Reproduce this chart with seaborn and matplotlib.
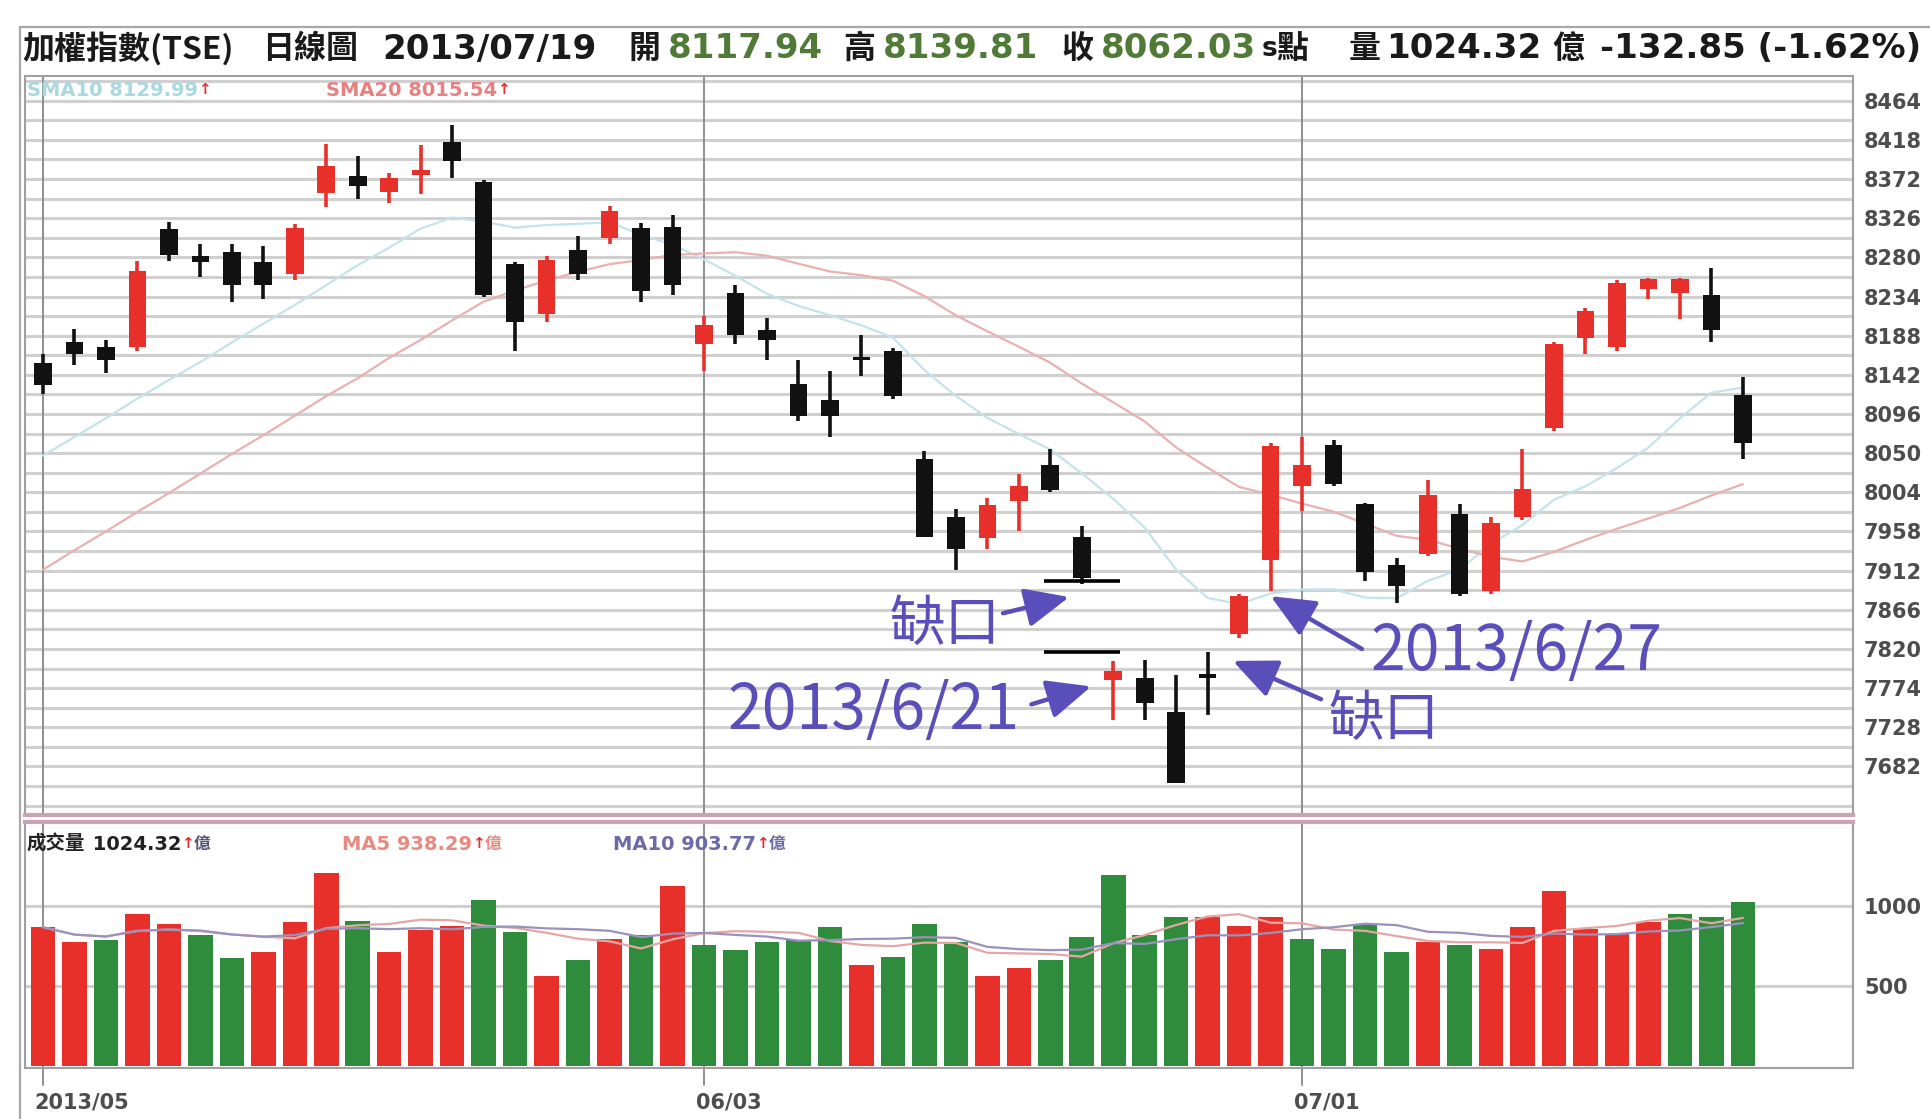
import numpy as np
import pandas as pd
import matplotlib
matplotlib.use('Agg')
import matplotlib.pyplot as plt
import matplotlib.transforms as mtrans
import seaborn as sns

# daily candles, TAIEX 2013/05 - 2013/07/19
opens = [8156, 8180, 8175, 8175, 8313, 8281, 8286, 8274, 8261, 8355,
         8376, 8357, 8377, 8415, 8368, 8272, 8214, 8289, 8303, 8315,
         8316, 8178, 8238, 8195, 8131, 8112, 8163, 8170, 8043, 7975,
         7950, 7994, 8036, 7952, 7783, 7786, 7746, 7790, 7838, 7924,
         8011, 8060, 7990, 7919, 7932, 7978, 7888, 7975, 8079, 8185,
         8175, 8243, 8238, 8236, 8117.94]
highs = [8167, 8196, 8183, 8276, 8322, 8296, 8296, 8293, 8319, 8413,
         8399, 8379, 8412, 8436, 8371, 8274, 8282, 8305, 8340, 8320,
         8330, 8211, 8247, 8209, 8159, 8147, 8189, 8173, 8052, 7984,
         7997, 8026, 8055, 7964, 7806, 7807, 7790, 7816, 7885, 8062,
         8069, 8065, 7992, 7927, 8018, 7990, 7975, 8055, 8181, 8221,
         8253, 8256, 8256, 8267, 8139.81]
lows = [8120, 8153, 8144, 8170, 8276, 8257, 8228, 8231, 8253, 8339,
        8348, 8344, 8354, 8373, 8234, 8170, 8204, 8253, 8296, 8228,
        8236, 8146, 8178, 8160, 8088, 8069, 8141, 8114, 7952, 7913,
        7937, 7958, 8004, 7896, 7736, 7736, 7662, 7742, 7833, 7888,
        7982, 8011, 7900, 7874, 7929, 7882, 7885, 7972, 8076, 8167,
        8170, 8231, 8207, 8181, 8043]
closes = [8130, 8166, 8160, 8264, 8283, 8275, 8247, 8247, 8315, 8387,
          8364, 8373, 8383, 8393, 8236, 8204, 8277, 8261, 8334, 8240,
          8247, 8201, 8189, 8183, 8094, 8094, 8159, 8117, 7952, 7937,
          7989, 8011, 8007, 7903, 7794, 7757, 7663, 7786, 7882, 8059,
          8036, 8014, 7910, 7894, 8001, 7885, 7968, 8008, 8178, 8217,
          8250, 8254, 8254, 8195, 8062.03]

# moving averages before the window is full
sma10_early = [8047, 8069, 8091, 8114, 8136, 8157, 8180, 8202, 8224]
sma20_early = [7913, 7936, 7958, 7981, 8003, 8026, 8049, 8071, 8094, 8117,
               8138, 8162, 8183, 8206, 8228, 8241, 8253, 8263, 8272]

volumes = [867, 775, 785, 949, 887, 816, 673, 714, 898, 1204,
           908, 714, 847, 877, 1040, 836, 560, 663, 796, 816,
           1122, 755, 724, 775, 785, 867, 632, 683, 887, 775,
           561, 612, 663, 806, 1193, 816, 928, 928, 877, 928,
           796, 734, 887, 714, 775, 755, 734, 867, 1091, 857,
           826, 898, 949, 928, 1024.32]
vol_dir = list('RRGRRGGRRRGRRRGGRGRGRGGGGGRGGGRRGGGGGRRRGGGGRGRRRRRRGGG')

price_ticks = [7682 + 46 * k for k in range(18)]
vol_ticks = [500, 1000]
date_labels = ['2013/05', '06/03', '07/01']
date_idx = [0, 21, 40]
gap_levels = [7900, 7817]

RED = '#e8302a'
GREEN = '#2f8c3c'
ANN = '#5a4fba'
W, H = 1930, 1119

sns.set_theme(style='white')
plt.rcParams['font.family'] = ['Noto Sans CJK TC', 'DejaVu Sans']

fig = plt.figure(figsize=(W / 100, H / 100), dpi=100)
fig.patch.set_facecolor('white')
ax = fig.add_axes([25 / W, 1 - 815 / H, 1828 / W, 739 / H])
axv = fig.add_axes([25 / W, 1 - 1068 / H, 1828 / W, 246 / H])

idx = np.arange(len(closes))
o, h, l, c = map(np.array, (opens, highs, lows, closes))

close_s = pd.Series(c, dtype=float)
sma10 = close_s.rolling(10).mean()
sma10.iloc[:9] = sma10_early
sma20 = close_s.rolling(20).mean()
sma20.iloc[:19] = sma20_early

# ---- price panel ----
for v in np.arange(7636, 8500, 23):
    ax.axhline(v, color='#d0d0d0', lw=2.2, zorder=0)
for d in date_idx:
    ax.axvline(d, color='#8f8f8f', lw=1.4, zorder=0.5)

sns.lineplot(x=idx, y=sma10.values, ax=ax, color='#c2e4ea', lw=1.6, zorder=1)
sns.lineplot(x=idx, y=sma20.values, ax=ax, color='#ebb0b0', lw=1.6, zorder=1)

up = c >= o
cols = np.where(up, RED, '#111111')
ax.vlines(idx, l, h, colors=cols, lw=2.6, zorder=3)
body_lo = np.minimum(o, c)
body_h = np.maximum(np.abs(c - o), 4.5)
ax.bar(idx, body_h, bottom=body_lo, width=0.56, color=cols, zorder=4, linewidth=0)

ax.hlines(gap_levels, 31.8, 34.2, colors='black', lw=2.6, zorder=4)

ax.set_xlim(-0.57, 57.5)
ax.set_ylim(7625, 8493)
ax.set_xticks([])
ax.yaxis.tick_right()
ax.set_yticks(price_ticks)
ax.set_yticklabels([str(t) for t in price_ticks], fontsize=15, fontweight='bold',
                   color='#4d4d4d', family='DejaVu Sans')
ax.tick_params(axis='y', length=0, pad=8)
for s in ax.spines.values():
    s.set_color('#a0a0a0')
    s.set_linewidth(1.5)
ax.spines['bottom'].set_color('#caa3b6')
ax.spines['bottom'].set_linewidth(3)

# annotations
ann_kw = dict(color=ANN, ha='center', va='center', zorder=6, fontweight='light')
ax.text(28.65, 7848, '缺口', fontsize=40, **ann_kw)
ax.text(26.4, 7747, '2013/6/21', fontsize=45, **ann_kw)
ax.text(46.8, 7816, '2013/6/27', fontsize=45, **ann_kw)
ax.text(42.6, 7736, '缺口', fontsize=40, **ann_kw)
arrow = dict(arrowstyle='-|>,head_length=0.9,head_width=0.4', lw=3.2, color=ANN,
             mutation_scale=30, shrinkA=0, shrinkB=0)
for tail, head in [((30.5, 7862), (32.6, 7881)),
                   ((31.4, 7755), (33.3, 7776)),
                   ((41.9, 7820), (39.0, 7882)),
                   ((40.6, 7761), (37.8, 7806))]:
    ax.annotate('', xy=head, xytext=tail, arrowprops=arrow, zorder=6)

# ---- volume panel ----
vdf = pd.DataFrame({'idx': idx, 'vol': volumes, 'dir': vol_dir})
for v in vol_ticks:
    axv.axhline(v, color='#cfcfcf', lw=2.2, zorder=0)
for d in date_idx:
    axv.axvline(d, color='#8f8f8f', lw=1.4, zorder=0.5)
sns.barplot(data=vdf, x='idx', y='vol', hue='dir', palette={'R': RED, 'G': GREEN},
            native_scale=True, width=0.78, dodge=False, legend=False,
            errorbar=None, saturation=1, ax=axv, zorder=2, linewidth=0)
vol_s = pd.Series(volumes, dtype=float)
sns.lineplot(x=idx, y=vol_s.rolling(5, min_periods=1).mean().values, ax=axv,
             color='#e6a6a6', lw=1.6, zorder=3)
sns.lineplot(x=idx, y=vol_s.rolling(10, min_periods=1).mean().values, ax=axv,
             color='#9a92bc', lw=1.6, zorder=3)

axv.set_xlim(-0.57, 57.5)
axv.set_ylim(-12, 1524)
axv.set_xlabel('')
axv.set_ylabel('')
axv.set_xticks([])
axv.yaxis.tick_right()
axv.set_yticks(vol_ticks)
axv.set_yticklabels([str(t) for t in vol_ticks], fontsize=15, fontweight='bold',
                    color='#4d4d4d', family='DejaVu Sans')
axv.tick_params(axis='y', length=0, pad=8)
for s in axv.spines.values():
    s.set_color('#a0a0a0')
    s.set_linewidth(1.5)
axv.spines['top'].set_color('#caa3b6')
axv.spines['top'].set_linewidth(3)

trans = mtrans.blended_transform_factory(axv.transData, axv.transAxes)
for d, lab in zip(date_idx, date_labels):
    axv.plot([d, d], [0, -0.07], color='#8f8f8f', lw=1.4, transform=trans, clip_on=False)
    axv.text(d - 0.27, -0.14, lab, transform=trans, ha='left', va='center',
             fontsize=15, fontweight='bold', color='#4d4d4d', family='DejaVu Sans')

# ---- text rows ----
fig.canvas.draw()
rend = fig.canvas.get_renderer()


def row(x, y, pieces, size):
    for s, col, fam, sz in pieces:
        t = fig.text(x / W, 1 - y / H, s, color=col, fontsize=sz or size,
                     fontweight='bold', family=fam, va='center', ha='left')
        x += t.get_window_extent(renderer=rend).width
    return x


CJK = ['Noto Sans CJK TC', 'DejaVu Sans']
DV = 'DejaVu Sans'
HG = '#4f7b36'
K = '#1a1a1a'
header = [('加權指數(TSE)', 22, K, CJK, 23), ('日線圖', 262, K, CJK, 23),
          ('2013/07/19', 382, K, DV, 24.5), ('開', 628, K, CJK, 23),
          ('8117.94', 668, HG, DV, 24.5), ('高', 843, K, CJK, 23),
          ('8139.81', 883, HG, DV, 24.5), ('收', 1061, K, CJK, 23),
          ('8062.03', 1101, HG, DV, 24.5), ('s', 1262, K, DV, 19),
          ('點', 1276, K, CJK, 23), ('量', 1349, K, CJK, 23),
          ('1024.32', 1386, K, DV, 24.5), ('億', 1552, K, CJK, 23),
          ('-132.85 (-1.62%)', 1600, K, DV, 24.5)]
for s, x, col, fam, sz in header:
    fig.text(x / W, 1 - 49 / H, s, color=col, fontsize=sz, fontweight='bold',
             family=fam, va='center', ha='left')

row(27, 90, [('SMA10 8129.99', '#a9d8e2', DV, None), ('↑', RED, DV, 11)], 14)
row(326, 90, [('SMA20 8015.54', '#e88080', DV, None), ('↑', RED, DV, 11)], 14)
row(27, 844, [('成交量', '#222222', CJK, None), (' 1024.32', '#222222', DV, None),
              ('↑', RED, DV, 11), ('億', '#555577', CJK, 12)], 14)
row(342, 844, [('MA5 938.29', '#e88a80', DV, None), ('↑', RED, DV, 11),
               ('億', '#e88a80', CJK, 12)], 14)
row(613, 844, [('MA10 903.77', '#6c6aa8', DV, None), ('↑', RED, DV, 11),
               ('億', '#6c6aa8', CJK, 12)], 14)

# outer frame
fig.add_artist(plt.Line2D([20 / W, 1], [1 - 27 / H, 1 - 27 / H], color='#a8a8a8', lw=1.6))
fig.add_artist(plt.Line2D([20 / W, 20 / W], [1 - 27 / H, 0], color='#a8a8a8', lw=1.6))

fig.savefig('out.png', dpi=100)
